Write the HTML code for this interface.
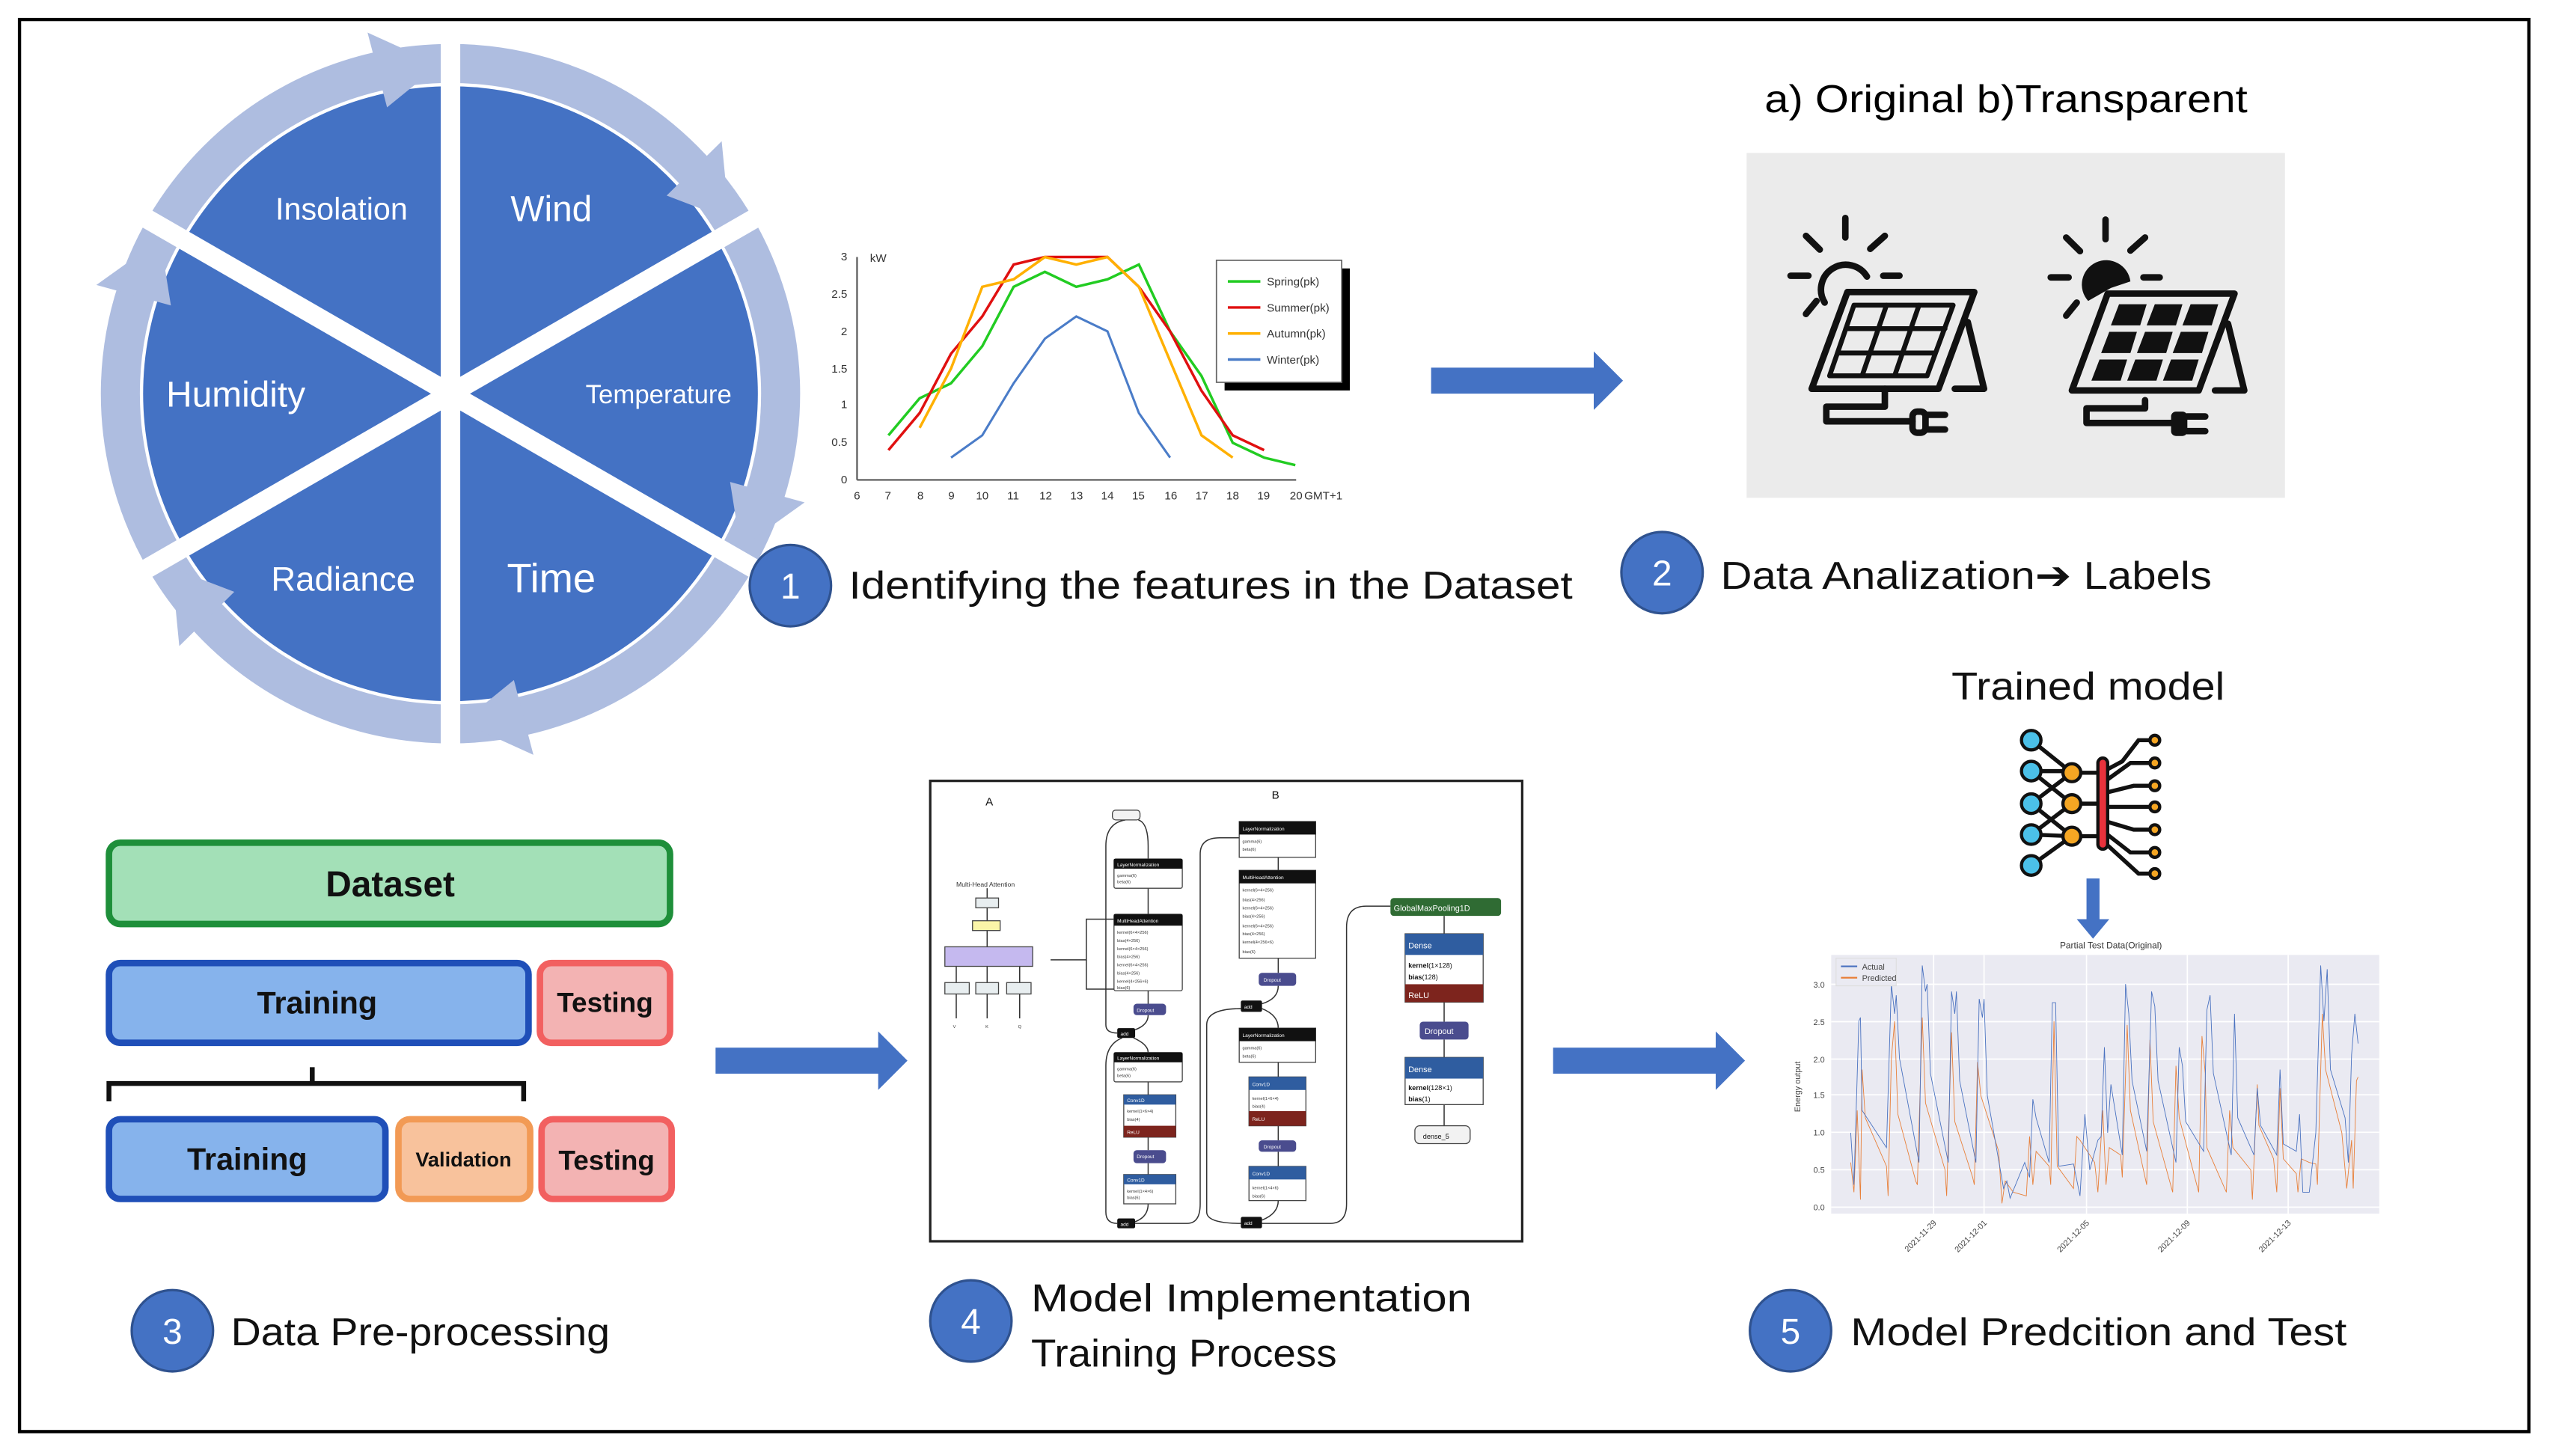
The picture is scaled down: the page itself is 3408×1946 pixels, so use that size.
<!DOCTYPE html>
<html><head><meta charset="utf-8"><style>
html,body{margin:0;padding:0;background:#fff;}
svg{display:block;}
text{font-family:"Liberation Sans",sans-serif;}
</style></head><body>
<svg width="3408" height="1946" viewBox="0 0 1568 895" preserveAspectRatio="none" xmlns="http://www.w3.org/2000/svg">
<rect x="0" y="0" width="1568" height="895" fill="#fff"/>
<rect x="12" y="12" width="1543" height="868" fill="none" stroke="#000" stroke-width="2"/>

<!-- WHEEL -->
<g>
<circle cx="277" cy="242" r="203" fill="none" stroke="#aebde0" stroke-width="24"/>
<circle cx="277" cy="242" r="189" fill="#4472c4"/>
<g stroke="#fff" stroke-width="12">
<line x1="277" y1="15" x2="277" y2="469"/>
<line x1="80" y1="128.5" x2="474" y2="355.5"/>
<line x1="80" y1="355.5" x2="474" y2="128.5"/>
</g>
<g fill="#aebde0">
<polygon points="270,40 238,66 226,20" />
<polygon points="270,40 238,66 226,20" transform="rotate(60 277 242)"/>
<polygon points="270,40 238,66 226,20" transform="rotate(120 277 242)"/>
<polygon points="270,40 238,66 226,20" transform="rotate(180 277 242)"/>
<polygon points="270,40 238,66 226,20" transform="rotate(240 277 242)"/>
<polygon points="270,40 238,66 226,20" transform="rotate(300 277 242)"/>
</g>
<g fill="#fff" text-anchor="middle">
<text x="210" y="135" font-size="19">Insolation</text>
<text x="339" y="136" font-size="22">Wind</text>
<text x="145" y="250" font-size="22">Humidity</text>
<text x="405" y="248" font-size="16">Temperature</text>
<text x="211" y="363" font-size="21">Radiance</text>
<text x="339" y="364" font-size="25">Time</text>
</g>
</g>

<!-- CHART 1 -->
<g font-size="7" fill="#333">
<line x1="527" y1="158" x2="527" y2="295" stroke="#555" stroke-width="1"/>
<line x1="527" y1="295" x2="797" y2="295" stroke="#555" stroke-width="1"/>
<g text-anchor="end">
<text x="521" y="160">3</text><text x="521" y="183">2.5</text><text x="521" y="206">2</text><text x="521" y="229">1.5</text><text x="521" y="251">1</text><text x="521" y="274">0.5</text><text x="521" y="297">0</text>
</g>
<text x="535" y="161">kW</text>
<g text-anchor="middle">
<text x="527" y="307">6</text><text x="546" y="307">7</text><text x="566" y="307">8</text><text x="585" y="307">9</text><text x="604" y="307">10</text><text x="623" y="307">11</text><text x="643" y="307">12</text><text x="662" y="307">13</text><text x="681" y="307">14</text><text x="700" y="307">15</text><text x="720" y="307">16</text><text x="739" y="307">17</text><text x="758" y="307">18</text><text x="777" y="307">19</text><text x="797" y="307">20</text>
</g>
<text x="802" y="307">GMT+1</text>
<polyline fill="none" stroke="#22cc22" stroke-width="1.6" points="546.3,267.6 565.5,244.8 584.8,235.6 604,212.8 623.3,176.3 642.5,167.1 661.8,176.3 681,171.7 700.3,162.6 719.5,203.7 738.8,231.1 758,272.2 777.3,281.3 796.5,285.9"/>
<polyline fill="none" stroke="#e01010" stroke-width="1.6" points="546.3,276.7 565.5,253.9 584.8,217.4 604,194.5 623.3,162.6 642.5,158 661.8,158 681,158 700.3,176.3 719.5,203.7 738.8,240.2 758,267.6 777.3,276.7"/>
<polyline fill="none" stroke="#ffb000" stroke-width="1.6" points="565.5,263 584.8,226.5 604,176.3 623.3,171.7 642.5,158 661.8,162.6 681,158 700.3,176.3 719.5,221.9 738.8,267.6 758,281.3"/>
<polyline fill="none" stroke="#4a7cc8" stroke-width="1.4" points="584.8,281.3 604,267.6 623.3,235.6 642.5,208.2 661.8,194.5 681,203.7 700.3,253.9 719.5,281.3"/>
<rect x="753" y="165" width="77" height="75" fill="#000"/>
<rect x="748" y="160" width="77" height="75" fill="#fff" stroke="#666" stroke-width="0.8"/>
<line x1="755" y1="173" x2="775" y2="173" stroke="#22cc22" stroke-width="1.6"/><text x="779" y="175.5" font-size="7">Spring(pk)</text>
<line x1="755" y1="189" x2="775" y2="189" stroke="#e01010" stroke-width="1.6"/><text x="779" y="191.5" font-size="7">Summer(pk)</text>
<line x1="755" y1="205" x2="775" y2="205" stroke="#ffb000" stroke-width="1.6"/><text x="779" y="207.5" font-size="7">Autumn(pk)</text>
<line x1="755" y1="221" x2="775" y2="221" stroke="#4a7cc8" stroke-width="1.6"/><text x="779" y="223.5" font-size="7">Winter(pk)</text>
</g>

<!-- arrows -->
<g fill="#4472c4">
<polygon points="880,226 980,226 980,216 998,234 980,252 980,242 880,242"/>
<polygon points="440,644 540,644 540,634 558,652 540,670 540,660 440,660"/>
<polygon points="955,644 1055,644 1055,634 1073,652 1055,670 1055,660 955,660"/>
<polygon points="1283,540 1291,540 1291,565 1297,565 1287,577 1277,565 1283,565"/>
</g>

<!-- top right -->
<text x="1085" y="69" font-size="24" textLength="297" lengthAdjust="spacingAndGlyphs">a) Original  b)Transparent</text>
<rect x="1074" y="94" width="331" height="212" fill="#ebebeb"/>
<g stroke="#111" stroke-width="4" fill="none" stroke-linecap="round" stroke-linejoin="round">
<path d="M1122,186 A14,14 0 1 1 1148,170"/>
<line x1="1134.7" y1="134" x2="1134.7" y2="146"/><line x1="1110.5" y1="145" x2="1119" y2="153.4"/><line x1="1159" y1="145" x2="1150" y2="153"/><line x1="1101" y1="169.5" x2="1112" y2="169.5"/><line x1="1158" y1="169.5" x2="1168" y2="169.5"/><line x1="1110.5" y1="193" x2="1117" y2="185"/>
<polygon points="1136,179.5 1214,179.5 1192,239 1114,239"/>
<polygon points="1140,187.6 1201,187.6 1185,231 1125,231" stroke-width="3"/>
<line x1="1135" y1="202" x2="1196" y2="202" stroke-width="3"/><line x1="1130" y1="217" x2="1190" y2="217" stroke-width="3"/>
<line x1="1160" y1="187.6" x2="1145" y2="231" stroke-width="3"/><line x1="1180" y1="187.6" x2="1165" y2="231" stroke-width="3"/>
<polyline points="1210,198 1220,239 1202,239"/>
<polyline points="1159,239 1159,250 1123,250 1123,259 1176,259"/>
<rect x="1176" y="253" width="8" height="13" rx="3"/><line x1="1185" y1="255" x2="1196" y2="255"/><line x1="1185" y1="264" x2="1196" y2="264"/>
</g>
<g transform="translate(160,1)">
<g stroke="#111" stroke-width="4" fill="none" stroke-linecap="round" stroke-linejoin="round">
<line x1="1134.7" y1="134" x2="1134.7" y2="146"/><line x1="1110.5" y1="145" x2="1119" y2="153.4"/><line x1="1159" y1="145" x2="1150" y2="153"/><line x1="1101" y1="169.5" x2="1112" y2="169.5"/><line x1="1158" y1="169.5" x2="1168" y2="169.5"/><line x1="1110.5" y1="193" x2="1117" y2="185"/>
<polygon points="1136,179.5 1214,179.5 1192,239 1114,239"/>
<polyline points="1210,198 1220,239 1202,239"/>
<polyline points="1159,245 1159,250 1123,250 1123,259 1176,259"/>
<line x1="1185" y1="255" x2="1196" y2="255"/><line x1="1185" y1="264" x2="1196" y2="264"/>
</g>
<path d="M1124,184 A15,15 0 1 1 1150,172 L1138,176 Z" fill="#111"/>
<rect x="1175" y="252" width="10" height="15" rx="3" fill="#111"/>
<g fill="#111">
<polygon points="1143,186 1160,186 1156,199 1138,199"/><polygon points="1165,186 1182,186 1178,199 1160,199"/><polygon points="1187,186 1204,186 1200,199 1182,199"/>
<polygon points="1137,203 1154,203 1150,216 1132,216"/><polygon points="1159,203 1176,203 1172,216 1154,216"/><polygon points="1181,203 1198,203 1194,216 1176,216"/>
<polygon points="1131,220 1148,220 1144,233 1126,233"/><polygon points="1153,220 1170,220 1166,233 1148,233"/><polygon points="1175,220 1192,220 1188,233 1170,233"/>
</g>
</g>

<!-- numbered circles -->
<g fill="#4472c4" stroke="#2f528f" stroke-width="1.5">
<circle cx="486" cy="360" r="25"/><circle cx="1022" cy="352" r="25"/><circle cx="106" cy="818" r="25"/><circle cx="597" cy="812" r="25"/><circle cx="1101" cy="818" r="25"/>
</g>
<g fill="#fff" font-size="22" text-anchor="middle">
<text x="486" y="368">1</text><text x="1022" y="360">2</text><text x="106" y="826">3</text><text x="597" y="820">4</text><text x="1101" y="826">5</text>
</g>
<g fill="#111" font-size="24">
<text x="522" y="368" textLength="445" lengthAdjust="spacingAndGlyphs">Identifying the features in the Dataset</text>
<text x="1058" y="362" textLength="302" lengthAdjust="spacingAndGlyphs">Data Analization➔ Labels</text>
<text x="142" y="827" textLength="233" lengthAdjust="spacingAndGlyphs">Data Pre-processing</text>
<text x="634" y="806" textLength="271" lengthAdjust="spacingAndGlyphs">Model Implementation</text>
<text x="634" y="840" textLength="188" lengthAdjust="spacingAndGlyphs">Training Process</text>
<text x="1138" y="827" textLength="305" lengthAdjust="spacingAndGlyphs">Model Predcition and Test</text>
<text x="1200" y="430" textLength="168" lengthAdjust="spacingAndGlyphs">Trained model</text>
</g>

<!-- dataset boxes -->
<g font-weight="bold" text-anchor="middle" fill="#111">
<rect x="67" y="518" width="345" height="50" rx="7" fill="#a3e0b7" stroke="#1e8f3a" stroke-width="4"/>
<text x="240" y="551" font-size="22">Dataset</text>
<rect x="67" y="592" width="258" height="49" rx="7" fill="#86b3ec" stroke="#1f4fb8" stroke-width="4"/>
<text x="195" y="623" font-size="19">Training</text>
<rect x="332" y="592" width="80" height="49" rx="7" fill="#f3b3b3" stroke="#f26060" stroke-width="4"/>
<text x="372" y="622" font-size="17">Testing</text>
<rect x="67" y="688" width="170" height="49" rx="7" fill="#86b3ec" stroke="#1f4fb8" stroke-width="4"/>
<text x="152" y="719" font-size="19">Training</text>
<rect x="245" y="688" width="81" height="49" rx="7" fill="#f8c29c" stroke="#f29a55" stroke-width="4"/>
<text x="285" y="717" font-size="12.5">Validation</text>
<rect x="333" y="688" width="80" height="49" rx="7" fill="#f3b3b3" stroke="#f26060" stroke-width="4"/>
<text x="373" y="719" font-size="17">Testing</text>
</g>
<g stroke="#111" stroke-width="3" fill="none">
<polyline points="67,677 67,666 322,666 322,677"/>
<line x1="192" y1="656" x2="192" y2="666"/>
</g>

<!-- model diagram -->
<rect x="572" y="480" width="364" height="283" fill="#fff" stroke="#222" stroke-width="1.5"/>
<g font-size="7" fill="#111">
<text x="606" y="495">A</text><text x="782" y="491">B</text>
</g>
<g font-size="4" fill="#333" font-family="Liberation Serif,serif">
<text x="588" y="545">Multi-Head Attention</text>
</g>
<g stroke="#333" stroke-width="0.7" fill="none">
<line x1="607" y1="546" x2="607" y2="552"/><line x1="607" y1="558" x2="607" y2="566"/><line x1="607" y1="572" x2="607" y2="582"/>
<line x1="588" y1="594" x2="588" y2="604"/><line x1="607" y1="594" x2="607" y2="604"/><line x1="627" y1="594" x2="627" y2="604"/>
<line x1="588" y1="611" x2="588" y2="626"/><line x1="607" y1="611" x2="607" y2="626"/><line x1="627" y1="611" x2="627" y2="626"/>
<polyline points="646,590 668,590 668,565 685,565"/><polyline points="668,590 668,608 685,608"/>
<path d="M692,504 Q680,506 680,520 L680,630 Q680,635 687,635"/>
<path d="M700,504 Q706,506 706,520 L706,528"/>
<line x1="706" y1="546" x2="706" y2="562"/><line x1="706" y1="609" x2="706" y2="617"/><path d="M706,624 Q706,630 698,633"/>
<path d="M690,638 Q680,642 680,655 L680,745 Q680,752 687,752"/>
<path d="M697,638 Q706,642 706,647"/><line x1="706" y1="665" x2="706" y2="673"/><line x1="706" y1="699" x2="706" y2="707"/><line x1="706" y1="715" x2="706" y2="722"/><path d="M706,740 Q706,748 698,751"/>
<path d="M698,752 L730,752 Q738,752 738,740 L738,525 Q738,515 750,515 L762,515"/>
<line x1="786" y1="527" x2="786" y2="535"/><line x1="786" y1="589" x2="786" y2="598"/><path d="M786,606 Q786,614 776,617"/>
<path d="M763,620 Q742,620 742,630 L742,745 Q742,752 763,752"/>
<path d="M776,620 Q786,624 786,632"/><line x1="786" y1="653" x2="786" y2="662"/><line x1="786" y1="692" x2="786" y2="701"/><line x1="786" y1="708" x2="786" y2="717"/><path d="M786,738 Q786,746 776,750"/>
<path d="M776,752 L818,752 Q828,752 828,740 L828,570 Q828,557 840,557 L855,557"/>
<line x1="888" y1="563" x2="888" y2="574"/><line x1="888" y1="616" x2="888" y2="628"/><line x1="888" y1="639" x2="888" y2="650"/><line x1="888" y1="679" x2="888" y2="692"/>
</g>
<g stroke="#444" stroke-width="0.6">
<rect x="600" y="552" width="14" height="6" fill="#e8eef0"/>
<rect x="598" y="566" width="17" height="6" fill="#fbf5a8"/>
<rect x="581" y="582" width="54" height="12" fill="#c5b9ef"/>
<rect x="581" y="604" width="15" height="7" fill="#e8eef0"/><rect x="600" y="604" width="14" height="7" fill="#e8eef0"/><rect x="619" y="604" width="15" height="7" fill="#e8eef0"/>
<rect x="684" y="498" width="17" height="6" rx="2" fill="#f2f2f2"/>
<rect x="685" y="528" width="42" height="18" rx="1" fill="#fff"/>
<rect x="685" y="562" width="42" height="47" rx="1" fill="#fff"/>
<rect x="685" y="647" width="42" height="18" rx="1" fill="#fff"/>
<rect x="691" y="673" width="32" height="26" fill="#fff"/>
<rect x="691" y="722" width="32" height="18" fill="#fff"/>
<rect x="762" y="505" width="47" height="22" fill="#fff"/>
<rect x="762" y="535" width="47" height="54" fill="#fff"/>
<rect x="762" y="632" width="47" height="21" fill="#fff"/>
<rect x="768" y="662" width="35" height="30" fill="#fff"/>
<rect x="768" y="717" width="35" height="21" fill="#fff"/>
<rect x="864" y="574" width="48" height="42" fill="#fff"/>
<rect x="864" y="650" width="48" height="29" fill="#fff"/>
<rect x="870" y="692" width="34" height="11" rx="3" fill="#f2f2f2"/>
</g>
<g stroke="none">
<rect x="685" y="528" width="42" height="6" fill="#111"/>
<rect x="685" y="562" width="42" height="7" fill="#111"/>
<rect x="697" y="617" width="20" height="7" rx="2" fill="#4a4c8e"/>
<rect x="687" y="632" width="11" height="6" rx="1" fill="#111"/>
<rect x="685" y="647" width="42" height="6" fill="#111"/>
<rect x="691" y="673" width="32" height="6" fill="#2f5da0"/>
<rect x="691" y="692" width="32" height="7" fill="#7d241d"/>
<rect x="697" y="707" width="20" height="8" rx="2" fill="#4a4c8e"/>
<rect x="691" y="722" width="32" height="6" fill="#2f5da0"/>
<rect x="687" y="749" width="11" height="6" rx="1" fill="#111"/>
<rect x="762" y="505" width="47" height="8" fill="#111"/>
<rect x="762" y="535" width="47" height="8" fill="#111"/>
<rect x="774" y="598" width="23" height="8" rx="2" fill="#4a4c8e"/>
<rect x="763" y="615" width="13" height="7" rx="1" fill="#111"/>
<rect x="762" y="632" width="47" height="8" fill="#111"/>
<rect x="768" y="662" width="35" height="8" fill="#2f5da0"/>
<rect x="768" y="683" width="35" height="9" fill="#7d241d"/>
<rect x="774" y="701" width="23" height="7" rx="2" fill="#4a4c8e"/>
<rect x="768" y="717" width="35" height="8" fill="#2f5da0"/>
<rect x="763" y="748" width="13" height="7" rx="1" fill="#111"/>
<rect x="855" y="552" width="68" height="11" rx="2" fill="#2f6b33"/>
<rect x="864" y="574" width="48" height="13" fill="#2f5da0"/>
<rect x="864" y="605" width="48" height="11" fill="#7d241d"/>
<rect x="873" y="628" width="30" height="11" rx="2" fill="#4a4c8e"/>
<rect x="864" y="650" width="48" height="13" fill="#2f5da0"/>
</g>
<g font-size="3" fill="#fff">
<text x="687" y="532.5">LayerNormalization</text><text x="687" y="567">MultiHeadAttention</text><text x="699" y="622">Dropout</text><text x="689" y="636.5">add</text><text x="687" y="651.5">LayerNormalization</text><text x="693" y="677.5">Conv1D</text><text x="693" y="697">ReLU</text><text x="699" y="712">Dropout</text><text x="693" y="726.5">Conv1D</text><text x="689" y="753.5">add</text>
<text x="764" y="510.5">LayerNormalization</text><text x="764" y="540.5">MultiHeadAttention</text><text x="777" y="603.5">Dropout</text><text x="765" y="620">add</text><text x="764" y="637.5">LayerNormalization</text><text x="770" y="667.5">Conv1D</text><text x="770" y="689">ReLU</text><text x="777" y="706">Dropout</text><text x="770" y="722.5">Conv1D</text><text x="765" y="753">add</text>
</g>
<g font-size="5" fill="#fff">
<text x="857" y="560">GlobalMaxPooling1D</text><text x="866" y="583">Dense</text><text x="866" y="613.5">ReLU</text><text x="876" y="635.5">Dropout</text><text x="866" y="659">Dense</text>
</g>
<g font-size="4.2" fill="#111">
<text x="866" y="595"><tspan font-weight="bold">kernel</tspan>(1×128)</text><text x="866" y="602"><tspan font-weight="bold">bias</tspan>(128)</text>
<text x="866" y="670"><tspan font-weight="bold">kernel</tspan>(128×1)</text><text x="866" y="677"><tspan font-weight="bold">bias</tspan>(1)</text>
<text x="875" y="700">dense_5</text>
</g>
<g font-size="2.6" fill="#333">
<text x="687" y="539">gamma(6)</text><text x="687" y="543">beta(6)</text>
<text x="687" y="574">kernel(6×4×256)</text><text x="687" y="579">bias(4×256)</text><text x="687" y="584">kernel(6×4×256)</text><text x="687" y="589">bias(4×256)</text><text x="687" y="594">kernel(6×4×256)</text><text x="687" y="599">bias(4×256)</text><text x="687" y="604">kernel(4×256×6)</text><text x="687" y="608">bias(6)</text>
<text x="687" y="658">gamma(6)</text><text x="687" y="662">beta(6)</text>
<text x="693" y="684">kernel(1×6×4)</text><text x="693" y="689">bias(4)</text><text x="693" y="733">kernel(1×4×6)</text><text x="693" y="737">bias(6)</text>
<text x="764" y="518">gamma(6)</text><text x="764" y="523">beta(6)</text>
<text x="764" y="548">kernel(6×4×256)</text><text x="764" y="554">bias(4×256)</text><text x="764" y="559">kernel(6×4×256)</text><text x="764" y="564">bias(4×256)</text><text x="764" y="570">kernel(6×4×256)</text><text x="764" y="575">bias(4×256)</text><text x="764" y="580">kernel(4×256×6)</text><text x="764" y="586">bias(6)</text>
<text x="764" y="645">gamma(6)</text><text x="764" y="650">beta(6)</text>
<text x="770" y="676">kernel(1×6×4)</text><text x="770" y="681">bias(4)</text><text x="770" y="731">kernel(1×4×6)</text><text x="770" y="736">bias(6)</text>
<text x="586" y="632">V</text><text x="606" y="632">K</text><text x="626" y="632">Q</text>
</g>

<!-- network icon -->
<g stroke="#111" stroke-width="2.5" fill="none" stroke-linecap="round">
<line x1="1249" y1="455" x2="1274" y2="475"/><line x1="1249" y1="474" x2="1274" y2="494"/><line x1="1249" y1="494" x2="1274" y2="475"/><line x1="1249" y1="494" x2="1274" y2="514"/><line x1="1249" y1="513" x2="1274" y2="494"/><line x1="1249" y1="532" x2="1274" y2="514"/>
<line x1="1249" y1="474" x2="1274" y2="474"/><line x1="1249" y1="513" x2="1274" y2="514"/>
<line x1="1274" y1="475" x2="1292" y2="475"/><line x1="1274" y1="494" x2="1292" y2="494"/><line x1="1274" y1="514" x2="1292" y2="514"/>
<path d="M1292,475 L1305,468 L1315,455 L1325,455"/><path d="M1292,482 L1310,469 L1325,469"/><path d="M1292,488 L1312,483 L1325,483"/><line x1="1292" y1="496" x2="1325" y2="496"/><path d="M1292,504 L1312,510 L1325,510"/><path d="M1292,510 L1310,524 L1325,524"/><path d="M1292,516 L1315,537 L1325,537"/>
</g>
<g stroke="#111" stroke-width="2">
<circle cx="1249" cy="455" r="6" fill="#4bc0e8"/><circle cx="1249" cy="474" r="6" fill="#4bc0e8"/><circle cx="1249" cy="494" r="6" fill="#4bc0e8"/><circle cx="1249" cy="513" r="6" fill="#4bc0e8"/><circle cx="1249" cy="532" r="6" fill="#4bc0e8"/>
<circle cx="1274" cy="475" r="5.5" fill="#f5a623"/><circle cx="1274" cy="494" r="5.5" fill="#f5a623"/><circle cx="1274" cy="514" r="5.5" fill="#f5a623"/>
<rect x="1290" y="466" width="6" height="56" rx="3" fill="#e8323c"/>
<circle cx="1325" cy="455" r="3" fill="#f5a623"/><circle cx="1325" cy="469" r="3" fill="#f5a623"/><circle cx="1325" cy="483" r="3" fill="#f5a623"/><circle cx="1325" cy="496" r="3" fill="#f5a623"/><circle cx="1325" cy="510" r="3" fill="#f5a623"/><circle cx="1325" cy="524" r="3" fill="#f5a623"/><circle cx="1325" cy="537" r="3" fill="#f5a623"/>
</g>

<!-- bottom chart -->
<text x="1298" y="583" font-size="5.5" fill="#333" text-anchor="middle">Partial Test Data(Original)</text>
<rect x="1126" y="587" width="337" height="159" fill="#eaeaf2"/>
<g stroke="#fff" stroke-width="0.8">
<line x1="1126" y1="742" x2="1463" y2="742"/><line x1="1126" y1="719" x2="1463" y2="719"/><line x1="1126" y1="696" x2="1463" y2="696"/><line x1="1126" y1="673" x2="1463" y2="673"/><line x1="1126" y1="651" x2="1463" y2="651"/><line x1="1126" y1="628" x2="1463" y2="628"/><line x1="1126" y1="605" x2="1463" y2="605"/>
<line x1="1189" y1="587" x2="1189" y2="746"/><line x1="1220" y1="587" x2="1220" y2="746"/><line x1="1283" y1="587" x2="1283" y2="746"/><line x1="1345" y1="587" x2="1345" y2="746"/><line x1="1407" y1="587" x2="1407" y2="746"/>
</g>
<g font-size="5" fill="#444" text-anchor="end">
<text x="1122" y="744">0.0</text><text x="1122" y="721">0.5</text><text x="1122" y="698">1.0</text><text x="1122" y="675">1.5</text><text x="1122" y="653">2.0</text><text x="1122" y="630">2.5</text><text x="1122" y="607">3.0</text>
<text transform="translate(1191,752) rotate(-45)">2021-11-29</text><text transform="translate(1222,752) rotate(-45)">2021-12-01</text><text transform="translate(1285,752) rotate(-45)">2021-12-05</text><text transform="translate(1347,752) rotate(-45)">2021-12-09</text><text transform="translate(1409,752) rotate(-45)">2021-12-13</text>
</g>
<text transform="translate(1107,668) rotate(-90)" font-size="5" fill="#444" text-anchor="middle">Energy output</text>
<g transform="translate(0,742) scale(1,-45.7)" fill="none">
<polyline vector-effect="non-scaling-stroke" stroke="#e8803a" stroke-width="0.9" points="1138,0.6 1140,0.2 1142,1.3 1144,0.1 1145,1.85 1147,1.2 1160,0.55 1161,0.15 1163,2.0 1165,2.5 1167,1.25 1178,0.35 1179,0.3 1182,2.55 1184,1.4 1196,0.5 1197,0.15 1200,2.35 1202,1.15 1213,0.4 1214,0.3 1216,1.95 1218,1.5 1229,0.75 1231,0.05 1233,0.35 1238,0.2 1246,0.15 1248,0.95 1250,0.3 1252,0.75 1260,0.55 1261,0.3 1263,2.5 1265,0.55 1275,0.25 1277,0.95 1279,0.9 1288,0.6 1290,0.2 1293,1.3 1295,0.3 1297,0.8 1304,0.7 1305,0.4 1308,2.45 1310,1.3 1320,0.3 1322,2.25 1324,1.15 1336,0.2 1338,1.9 1340,1.2 1352,0.2 1354,2.3 1356,1.8 1357,0.8 1369,0.2 1371,1.3 1373,0.8 1384,0.5 1385,0.1 1388,1.65 1389,1.1 1398,0.65 1400,0.2 1402,1.6 1404,0.65 1412,0.45 1413,0.2 1415,0.65 1420,0.6 1424,0.58 1425,0.3 1428,2.6 1430,1.85 1440,1.0 1443,0.25 1446,0.9 1447,0.25 1449,1.7 1450,1.75"/>
<polyline vector-effect="non-scaling-stroke" stroke="#4a72c0" stroke-width="0.9" points="1138,1.0 1140,0.3 1143,2.5 1144,2.55 1145,1.3 1160,0.8 1163,3.0 1165,2.6 1166,2.85 1168,2.0 1180,0.6 1182,3.25 1184,2.9 1185,3.0 1187,1.8 1198,0.6 1200,2.9 1202,2.6 1203,2.9 1205,1.7 1215,0.6 1217,2.8 1219,2.55 1220,2.8 1222,1.5 1232,0.25 1234,0.35 1236,0.12 1245,0.6 1248,0.4 1250,1.45 1252,1.2 1260,0.6 1262,2.75 1264,2.75 1266,0.55 1275,0.58 1279,0.15 1282,1.25 1285,0.5 1290,0.9 1292,0.95 1294,2.15 1296,1.0 1298,1.65 1305,0.7 1307,3.0 1309,2.6 1311,1.7 1320,0.75 1323,2.9 1325,2.7 1327,1.7 1338,0.6 1340,2.15 1342,1.9 1344,1.15 1355,0.75 1357,2.65 1359,2.85 1361,1.8 1372,0.7 1374,2.6 1376,1.2 1386,0.7 1388,1.6 1390,1.1 1400,0.7 1402,1.85 1404,0.85 1412,0.75 1414,1.25 1416,0.2 1420,0.2 1424,1.0 1427,3.25 1429,2.5 1431,3.2 1433,1.85 1442,1.2 1444,0.6 1446,2.05 1448,2.6 1450,2.2"/>
</g>
<rect x="1129" y="589" width="37" height="17" fill="#eaeaf2" stroke="#ddd" stroke-width="0.5"/>
<line x1="1132" y1="594" x2="1142" y2="594" stroke="#4a72c0" stroke-width="1"/><text x="1145" y="596" font-size="5" fill="#444">Actual</text>
<line x1="1132" y1="601" x2="1142" y2="601" stroke="#e8803a" stroke-width="1"/><text x="1145" y="603" font-size="5" fill="#444">Predicted</text>
</svg>
</body></html>
